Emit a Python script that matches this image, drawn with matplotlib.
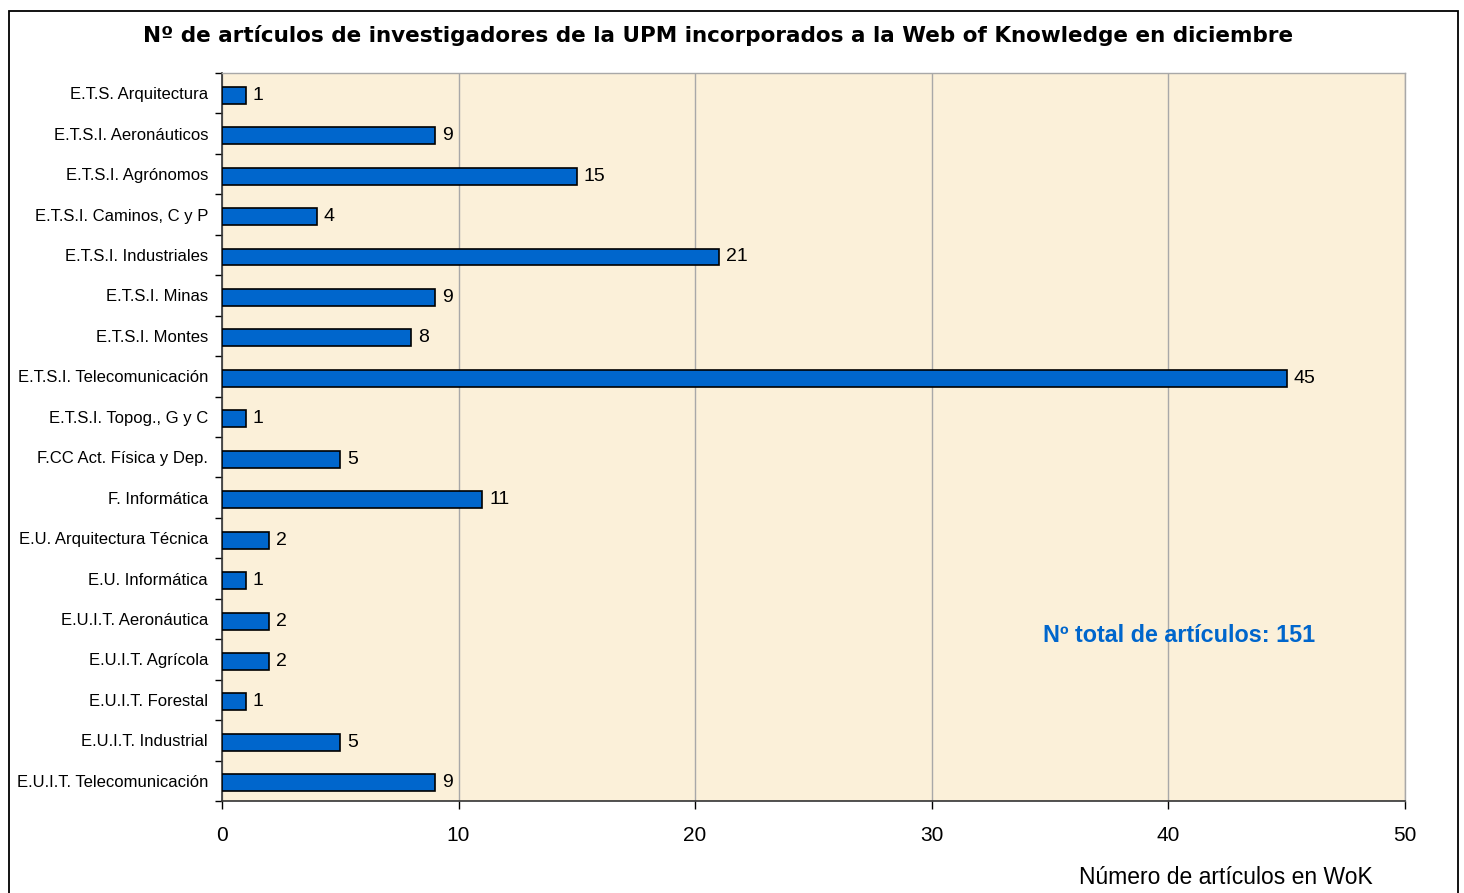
import numpy as np
import matplotlib.pyplot as plt
from matplotlib.patches import Rectangle

# datos
centros = ["E.T.S. Arquitectura", "E.T.S.I. Aeronáuticos", "E.T.S.I. Agrónomos",
           "E.T.S.I. Caminos, C y P", "E.T.S.I. Industriales", "E.T.S.I. Minas",
           "E.T.S.I. Montes", "E.T.S.I. Telecomunicación", "E.T.S.I. Topog., G y C",
           "F.CC Act. Física y Dep.", "F. Informática", "E.U. Arquitectura Técnica",
           "E.U. Informática", "E.U.I.T. Aeronáutica", "E.U.I.T. Agrícola",
           "E.U.I.T. Forestal", "E.U.I.T. Industrial", "E.U.I.T. Telecomunicación"]
articulos = [1, 9, 15, 4, 21, 9, 8, 45, 1, 5, 11, 2, 1, 2, 2, 1, 5, 9]
x_ticks = [0, 10, 20, 30, 40, 50]
total = sum(articulos)

plt.rcParams['font.family'] = ['Liberation Sans', 'DejaVu Sans']

fig = plt.figure(figsize=(14.64, 8.93), dpi=100)
ax = fig.add_axes([0.1516, 0.1030, 0.808, 0.8153])
ax.set_facecolor('#FBF0D9')

y = np.arange(len(centros))
ax.barh(y + 0.05, articulos, height=0.42, color='#0066CC', edgecolor='black', linewidth=1.2, zorder=3)
for yi, v in zip(y, articulos):
    ax.text(v + 0.3, yi + 0.05, str(v), va='center', ha='left', fontsize=14, zorder=4)

ax.set_xlim(0, 50)
ax.set_ylim(len(centros) - 0.5, -0.5)
ax.set_xticks(x_ticks)
ax.tick_params(axis='x', labelsize=15, length=6, width=1, pad=12)
ax.grid(axis='x', color='#A8A8A8', linewidth=1, zorder=0)

# marcas entre categorias, etiquetas en el centro
ax.set_yticks(np.arange(-0.5, len(centros)), labels=[''] * (len(centros) + 1))
ax.set_yticks(y, labels=centros, minor=True)
ax.tick_params(axis='y', which='major', length=5, width=1)
ax.tick_params(axis='y', which='minor', length=0, labelsize=12, pad=10)

for s in ['left', 'bottom']:
    ax.spines[s].set_linewidth(1.2)
    ax.spines[s].set_color('#333333')
for s in ['top', 'right']:
    ax.spines[s].set_linewidth(1)
    ax.spines[s].set_color('#A8A8A8')

ax.text(34.7, 13.4, f"Nº total de artículos: {total}", color='#0066CC',
        fontsize=16.8, fontweight='bold', va='center', ha='left')

fig.text(0.4908, 0.9597, "Nº de artículos de investigadores de la UPM incorporados a la Web of Knowledge en diciembre",
         ha='center', va='center', fontsize=15.5, fontweight='bold', family='DejaVu Sans')
fig.text(0.8374, 0.0168, "Número de artículos en WoK", ha='center', va='center', fontsize=16.5)

# marco exterior
fig.patches.append(Rectangle((9 / 1464, -0.05), (1458 - 9) / 1464, 1.05 - 11 / 893,
                             transform=fig.transFigure, fill=False,
                             edgecolor='black', linewidth=1.3))

fig.savefig('out.png', dpi=100, facecolor='white')
